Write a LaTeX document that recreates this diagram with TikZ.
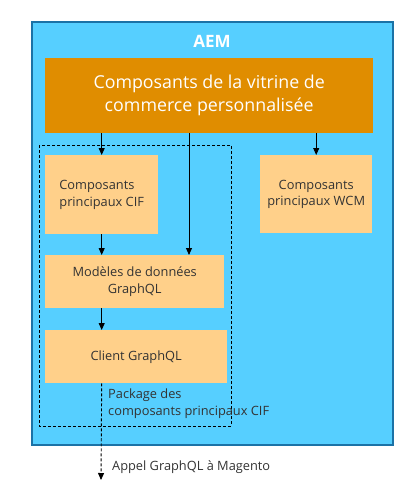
\documentclass[tikz,border=0pt]{standalone}
\usepackage{fontspec}
\setmainfont{Open Sans}
\usetikzlibrary{arrows.meta}
\definecolor{aemblue}{HTML}{56CFFF}
\definecolor{aemedge}{HTML}{1B72A6}
\definecolor{darkorange}{HTML}{E08D00}
\definecolor{lightorange}{HTML}{FFD08A}
\definecolor{textgray}{HTML}{333333}
\tikzset{
  box/.style={fill=lightorange, text=textgray, anchor=north west, inner sep=0pt,
    font=\fontsize{12.8}{16.5}\selectfont},
  arr/.style={-{Triangle[length=7pt,width=6pt]}, black, line width=0.9pt},
  dasharr/.style={arr, dash pattern=on 3pt off 2pt}
}

\begin{document}
\begin{tikzpicture}[x=1pt, y=-1pt]
\useasboundingbox (0,0) rectangle (420,495);

% AEM container
\draw[fill=aemblue, draw=aemedge, line width=2pt] (32,22) rectangle (393,445);
\node[text=white, font=\fontsize{17}{20}\bfseries\selectfont] (aem) at (212,41) {AEM};

% storefront components
\node[fill=darkorange, text=white, anchor=north west, inner sep=0pt,
  minimum width=328pt, minimum height=75pt, align=center,
  font=\fontsize{17.8}{23}\selectfont] (store) at (45,58)
  {Composants de la vitrine de\\commerce personnalisée};

% package frame
\draw[dash pattern=on 3pt off 2pt] (39,145) rectangle (231,426);

\node[box, minimum width=113pt, minimum height=79pt, align=left] (cif) at (45,155)
  {Composants\\principaux CIF};
\node[box, minimum width=179pt, minimum height=53pt, align=center] (model) at (45,255)
  {Modèles de données\\GraphQL};
\node[box, minimum width=182pt, minimum height=53pt] (client) at (45,330)
  {Client GraphQL};
\node[box, minimum width=112pt, minimum height=78pt, align=center] (wcm) at (260,155)
  {Composants\\principaux WCM};

\node[text=textgray, anchor=north west, inner sep=0pt, align=left,
  font=\fontsize{12.8}{16.5}\selectfont] (pkg) at (108,389)
  {Package des\\composants principaux CIF};

\coordinate (mid) at (189,0);
\coordinate (call) at (101,480);
\node[text=textgray, anchor=west, inner sep=0pt,
  font=\fontsize{12.8}{15}\selectfont] (calltext) at (112,467) {Appel GraphQL à Magento};

% connectors
\draw[arr] (store.south -| cif) -- (cif.north);
\draw[arr] (store.south -| mid) -- (model.north -| mid);
\draw[arr] (store.south -| wcm) -- (wcm.north);
\draw[arr] (cif.south) -- (model.north -| cif);
\draw[arr] (model.south -| cif) -- (client.north -| cif);
\draw[dasharr] (client.south -| cif) -- (call);
\end{tikzpicture}
\end{document}
